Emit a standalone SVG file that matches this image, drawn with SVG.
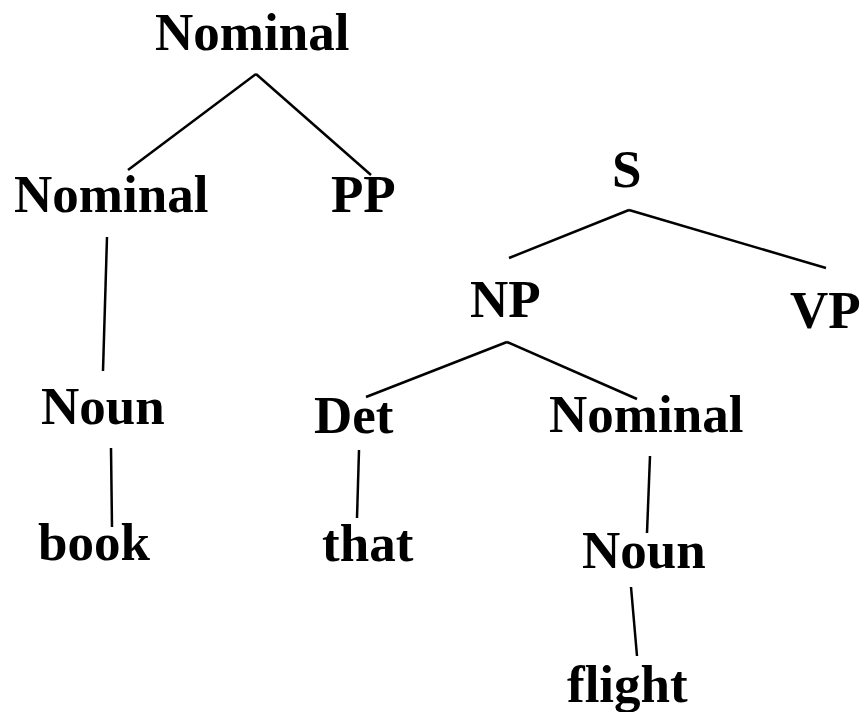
<svg xmlns="http://www.w3.org/2000/svg" width="862" height="712" viewBox="0 0 862 712">
<style>
.t{font-family:"Liberation Serif","Times New Roman",serif;font-weight:bold;font-size:53px;fill:#000}
.e line{stroke:#000;stroke-width:2.5;stroke-linecap:butt}
</style>
<rect width="862" height="712" fill="#fff"/>
<g id="connectors" class="e">
<line x1="256" y1="74" x2="128" y2="170"/>
<line x1="256" y1="74" x2="371" y2="175"/>
<line x1="107" y1="237" x2="103" y2="371"/>
<line x1="111" y1="448" x2="112" y2="527"/>
<line x1="629" y1="210" x2="509" y2="258"/>
<line x1="629" y1="210" x2="826" y2="268"/>
<line x1="507" y1="342" x2="366" y2="397"/>
<line x1="507" y1="342" x2="637" y2="399"/>
<line x1="359" y1="450" x2="357" y2="518"/>
<line x1="650" y1="456" x2="647" y2="533"/>
<line x1="631" y1="587" x2="637" y2="656"/>
</g>
<g id="n-nominal-top"><text class="t" x="155" y="50">Nominal</text></g>
<g id="n-nominal-left"><text class="t" x="14" y="212">Nominal</text></g>
<g id="n-pp"><text class="t" x="331" y="212">PP</text></g>
<g id="n-noun-left"><text class="t" x="41" y="424">Noun</text></g>
<g id="n-book"><text class="t" x="38" y="560">book</text></g>
<g id="n-s"><text class="t" x="612" y="187">S</text></g>
<g id="n-np"><text class="t" x="470" y="317">NP</text></g>
<g id="n-vp"><text class="t" x="790" y="328">VP</text></g>
<g id="n-det"><text class="t" x="314" y="433">Det</text></g>
<g id="n-nominal-right"><text class="t" x="549" y="432">Nominal</text></g>
<g id="n-that"><text class="t" x="322" y="561">that</text></g>
<g id="n-noun-right"><text class="t" x="582" y="568">Noun</text></g>
<g id="n-flight"><text class="t" x="567" y="702">flight</text></g>
</svg>
